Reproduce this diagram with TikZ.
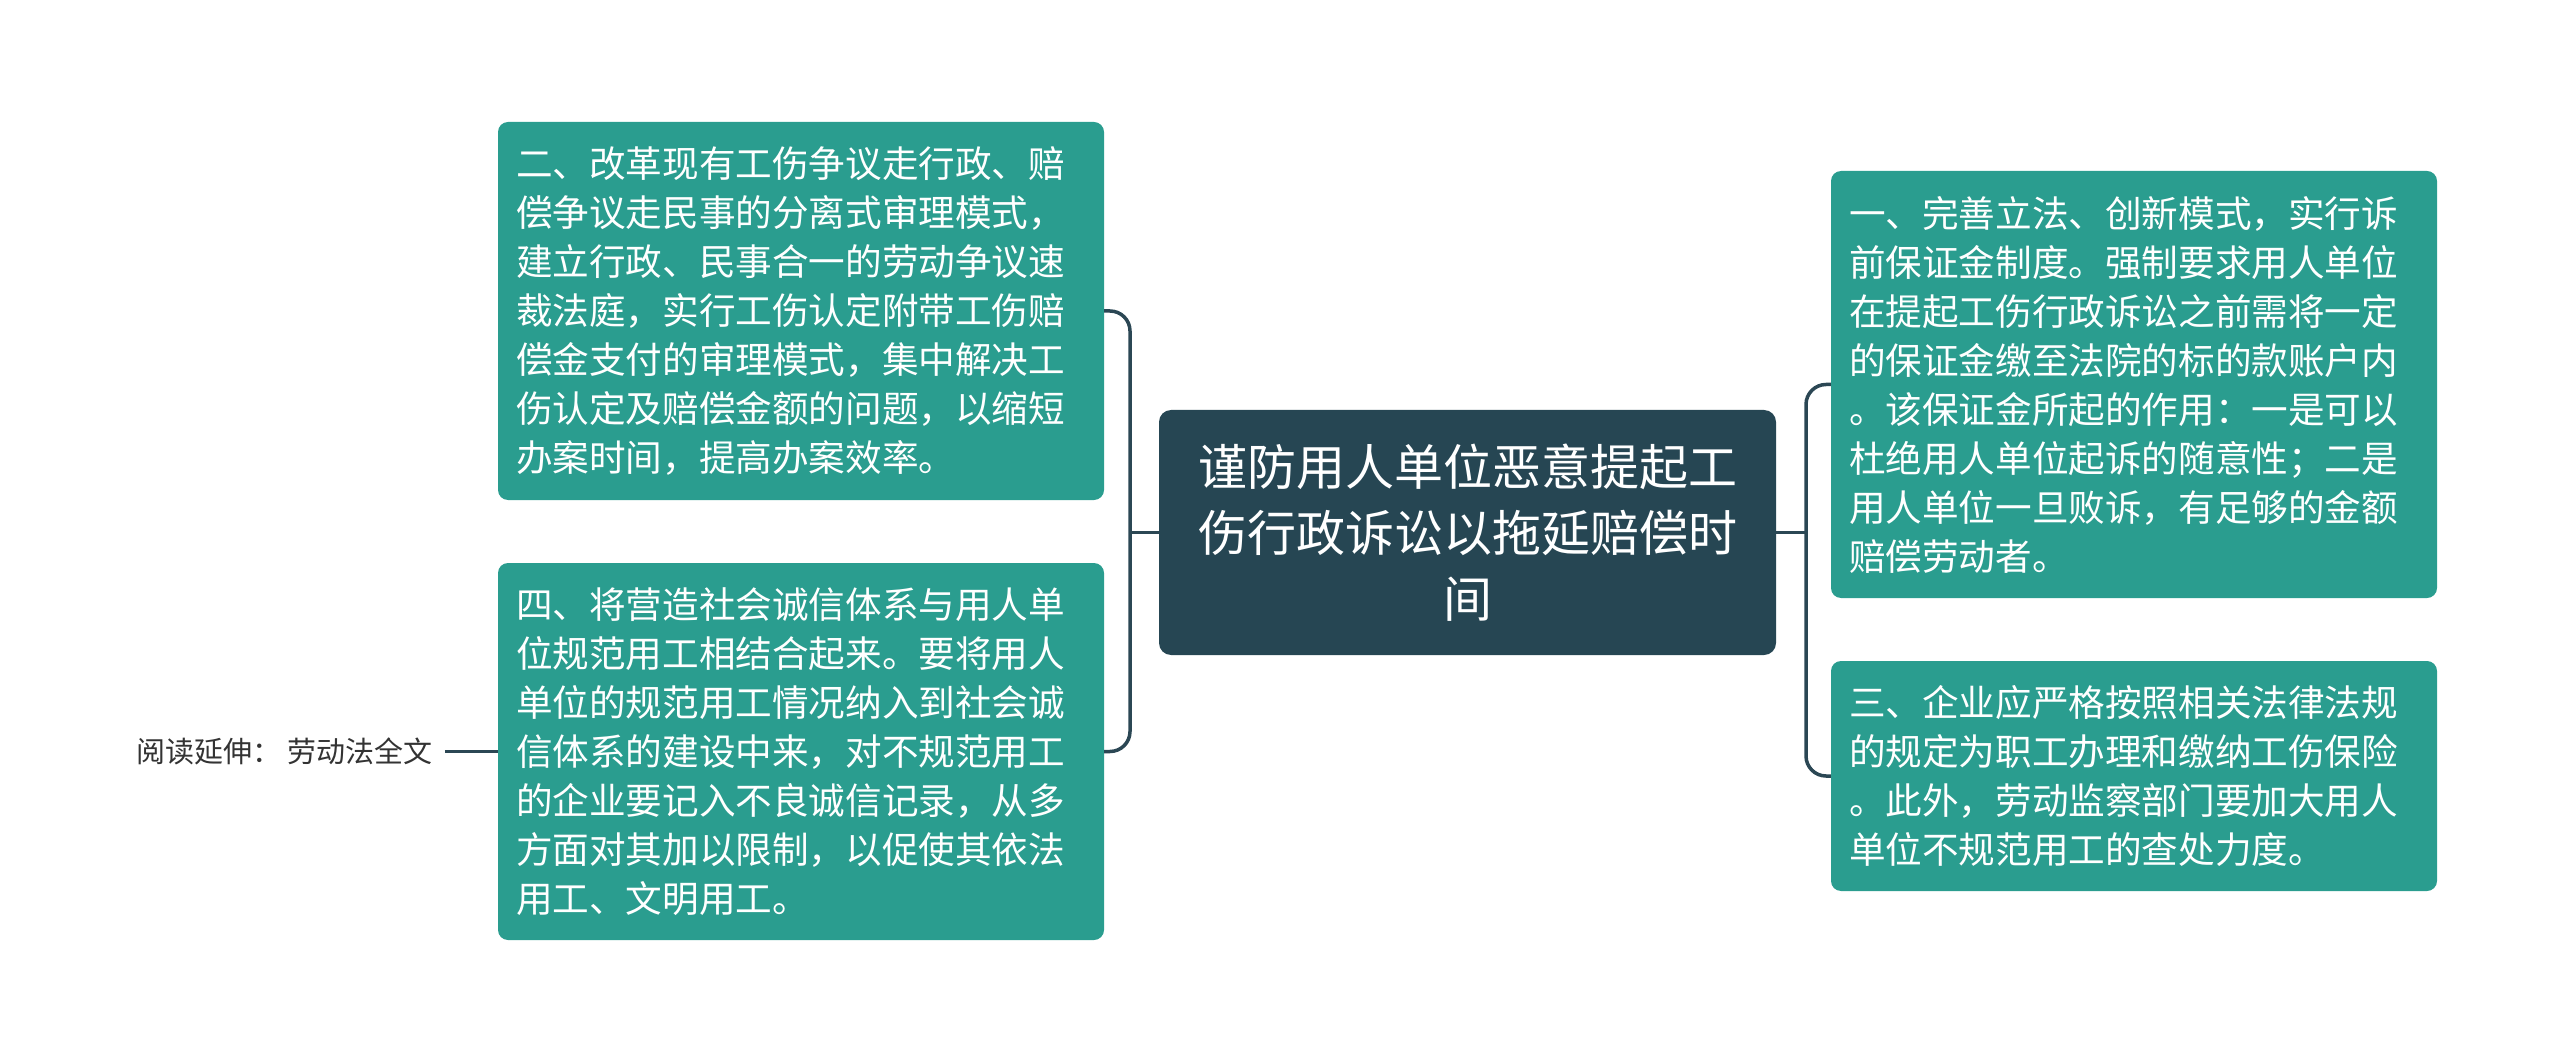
\documentclass[tikz,border=0pt]{standalone}
\usepackage{fontspec}
\setmainfont{Noto Sans CJK SC}
\usepackage{tikz}
\usetikzlibrary{positioning}
\definecolor{leafTeal}{HTML}{2A9D8F}
\definecolor{rootSlate}{HTML}{264653}
\definecolor{lineSlate}{HTML}{2B4754}
\definecolor{noteGray}{HTML}{333333}

\begin{document}
\begin{tikzpicture}[x=1pt, y=-1pt,
    leaf/.style={fill=leafTeal, text=white, rounded corners=10pt, text width=570pt, align=left, inner xsep=18pt, inner ysep=0pt, font=\fontsize{36.6}{49}\selectfont},
    rootbox/.style={fill=rootSlate, text=white, rounded corners=12pt, minimum width=617pt, minimum height=245pt, align=center, font=\fontsize{49}{66}\selectfont},
    conn/.style={draw=lineSlate, line width=3.5pt, rounded corners=20pt}]
    \useasboundingbox (0,0) rectangle (2560,1064);

    % Centre topic
    \node[rootbox] (root) at (1467.5,532.5) {谨防用人单位恶意提起工\\伤行政诉讼以拖延赔偿时\\间};

    % Left branches
    \node[leaf, minimum height=378pt] (b2) at (801,311) {二、改革现有工伤争议走行政、赔\\偿争议走民事的分离式审理模式，\\建立行政、民事合一的劳动争议速\\裁法庭，实行工伤认定附带工伤赔\\偿金支付的审理模式，集中解决工\\伤认定及赔偿金额的问题，以缩短\\办案时间，提高办案效率。};
    \node[leaf, minimum height=377pt] (b4) at (801,751.5) {四、将营造社会诚信体系与用人单\\位规范用工相结合起来。要将用人\\单位的规范用工情况纳入到社会诚\\信体系的建设中来，对不规范用工\\的企业要记入不良诚信记录，从多\\方面对其加以限制，以促使其依法\\用工、文明用工。};
    \node[left=53pt of b4, inner xsep=12pt, text=noteGray, font=\fontsize{29}{35}\selectfont] (ext) {阅读延伸： 劳动法全文};

    % Right branches
    \node[leaf, minimum height=427pt] (b1) at (2134,384.5) {一、完善立法、创新模式，实行诉\\前保证金制度。强制要求用人单位\\在提起工伤行政诉讼之前需将一定\\的保证金缴至法院的标的款账户内\\。该保证金所起的作用：一是可以\\杜绝用人单位起诉的随意性；二是\\用人单位一旦败诉，有足够的金额\\赔偿劳动者。};
    \node[leaf, minimum height=230pt] (b3) at (2134,776) {三、企业应严格按照相关法律法规\\的规定为职工办理和缴纳工伤保险\\。此外，劳动监察部门要加大用人\\单位不规范用工的查处力度。};

    % Brackets
    \coordinate (brL) at (1130,532.5);
    \coordinate (brR) at (1806,532.5);
    \draw[conn] (b2.east) -| (brL) |- (b4.east);
    \draw[conn] (root.west) -- (brL);
    \draw[conn] (b1.west) -| (brR) |- (b3.west);
    \draw[conn] (root.east) -- (brR);
    \draw[conn] (ext) -- (b4);
\end{tikzpicture}
\end{document}
